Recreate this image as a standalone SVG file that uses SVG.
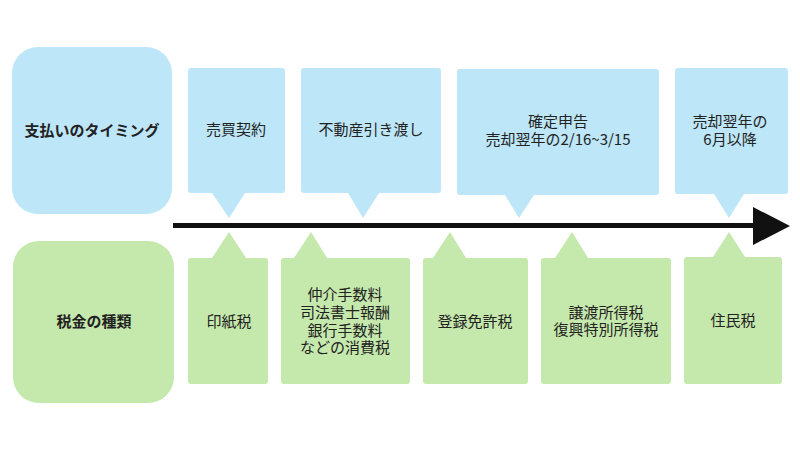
<svg xmlns="http://www.w3.org/2000/svg" width="800" height="450" viewBox="0 0 800 450">
<style>
.b{fill:#bde6f8}
.g{fill:#c5e8ac}
text{font-family:"Noto Sans CJK JP","Noto Sans",sans-serif;font-size:15px;fill:#222;text-anchor:middle}
.h{font-weight:bold}
</style>
<rect width="800" height="450" fill="#fff"/>
<g id="timing-header"><rect class="b" x="12" y="47" width="160" height="167" rx="26"/><text class="h" x="92" y="136">支払いのタイミング</text></g>
<g id="tax-header"><rect class="g" x="13" y="241" width="161" height="162" rx="26"/><text class="h" x="94" y="327">税金の種類</text></g>

<g id="t1"><path class="b" d="M191 68H282Q285 68 285 71V190Q285 193 282 193H245L229 218L212 193H191Q188 193 188 190V71Q188 68 191 68Z"/><text x="236" y="135">売買契約</text></g>
<g id="t2"><path class="b" d="M304 68H438Q441 68 441 71V190Q441 193 438 193H379L363 218L348 193H304Q301 193 301 190V71Q301 68 304 68Z"/><text x="371" y="135">不動産引き渡し</text></g>
<g id="t3"><path class="b" d="M460 69H656Q659 69 659 72V192Q659 195 656 195H534L519 218L505 195H460Q457 195 457 192V72Q457 69 460 69Z"/><text x="558" y="127">確定申告<tspan x="558" dy="18">売却翌年の2/16~3/15</tspan></text></g>
<g id="t4"><path class="b" d="M678 68H785Q788 68 788 71V191Q788 194 785 194H744L729 218L714 194H678Q675 194 675 191V71Q675 68 678 68Z"/><text x="730" y="127">売却翌年の<tspan x="730" dy="18">6月以降</tspan></text></g>

<g id="connectors">
<rect x="173" y="223" width="583" height="5" fill="#111"/>
<polygon points="753,207 790,226 753,245" fill="#111"/>
</g>

<g id="x1"><path class="g" d="M191 258H212L229 232L246 258H265Q268 258 268 261V381Q268 384 265 384H191Q188 384 188 381V261Q188 258 191 258Z"/><text x="229" y="327">印紙税</text></g>
<g id="x2"><path class="g" d="M284 258H294L311 232L327 258H407Q410 258 410 261V381Q410 384 407 384H284Q281 384 281 381V261Q281 258 284 258Z"/><text x="345" y="300">仲介手数料<tspan x="345" dy="18">司法書士報酬</tspan><tspan x="345" dy="18">銀行手数料</tspan><tspan x="345" dy="17">などの消費税</tspan></text></g>
<g id="x3"><path class="g" d="M426 258H433L450 232L466 258H525Q528 258 528 261V381Q528 384 525 384H426Q423 384 423 381V261Q423 258 426 258Z"/><text x="475" y="327">登録免許税</text></g>
<g id="x4"><path class="g" d="M544 258H555L572 232L588 258H668Q671 258 671 261V381Q671 384 668 384H544Q541 384 541 381V261Q541 258 544 258Z"/><text x="606" y="318">譲渡所得税<tspan x="606" dy="17">復興特別所得税</tspan></text></g>
<g id="x5"><path class="g" d="M687 257H713L729 232L745 257H779Q782 257 782 260V381Q782 384 779 384H687Q684 384 684 381V260Q684 257 687 257Z"/><text x="733" y="326">住民税</text></g>
</svg>
